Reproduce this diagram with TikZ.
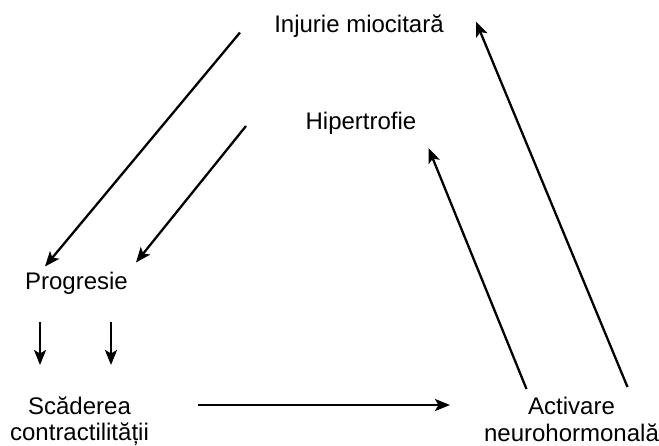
\documentclass[tikz,border=0pt]{standalone}
\usepackage{fontspec}
\setmainfont{Liberation Sans}
\usetikzlibrary{arrows.meta}
\begin{document}
\begin{tikzpicture}[x=1pt,y=-1pt,
  lbl/.style={inner sep=0pt,align=center,anchor=base,font=\fontsize{24}{26.5}\selectfont},
  arr/.style={line width=2.3pt,-{Stealth[length=15pt,width=12pt,inset=3.5pt]}}]
\useasboundingbox (0,0) rectangle (659,445);
\node[lbl] (inj) at (359,32) {Injurie miocitară};
\node[lbl] (hip) at (361,129) {Hipertrofie};
\node[lbl] (prog) at (76.5,289) {Progresie};
\node[lbl] (scad) at (79.5,440.5) {Scăderea\\contractilității};
\node[lbl] (act) at (571.5,441) {Activare\\neurohormonală};
% free ends
\coordinate (a1s) at (240,32.5);
\coordinate (a1e) at (45,266.5);
\coordinate (a2s) at (246,126);
\coordinate (a2e) at (136,262.5);
\coordinate (v1s) at (40,321.5);
\coordinate (v1e) at (40,365);
\coordinate (v2s) at (111,321.5);
\coordinate (v2e) at (111,365);
\coordinate (hs) at (198,405);
\coordinate (he) at (450,405);
\coordinate (b1s) at (526.5,389);
\coordinate (b1e) at (428.5,148);
\coordinate (b2s) at (627.5,387);
\coordinate (b2e) at (476,21.5);
\draw[arr] (a1s) -- (a1e);
\draw[arr] (a2s) -- (a2e);
\draw[arr] (v1s) -- (v1e);
\draw[arr] (v2s) -- (v2e);
\draw[arr] (hs) -- (he);
\draw[arr] (b1s) -- (b1e);
\draw[arr] (b2s) -- (b2e);
\end{tikzpicture}
\end{document}
